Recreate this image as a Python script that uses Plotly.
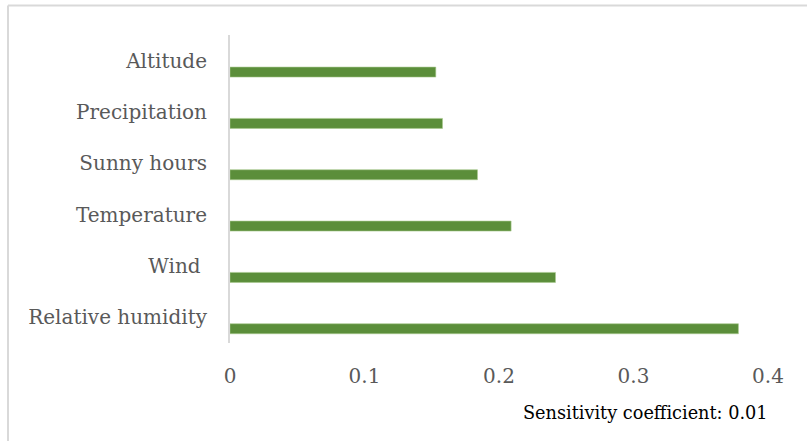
import plotly.graph_objects as go

# Factors, listed from bottom to top of the chart
factors = ["Relative humidity", "Wind ", "Temperature", "Sunny hours",
           "Precipitation", "Altitude"]
coefficients = [0.378, 0.242, 0.209, 0.184, 0.158, 0.153]
x_ticks = [0, 0.1, 0.2, 0.3, 0.4]
x_tick_labels = ["0", "0.1", "0.2", "0.3", "0.4"]
note_text = "Sensitivity coefficient: 0.01"

W, H = 807, 441
L, R, T, B = 230, 39, 35, 98
pw, ph = W - L - R, H - T - B

def px_x(px):
    return (px - L) / pw

def px_y(py):
    return (H - B - py) / ph

fig = go.Figure()
fig.add_trace(go.Bar(
    y=factors,
    x=coefficients,
    orientation="h",
    marker=dict(color="#5b8e3a", line=dict(color="#a9c98f", width=0.6)),
    width=0.195,
    offset=-0.32,
    hoverinfo="x+y",
))

# Chart frame: top and left edges
fig.add_shape(type="line", xref="paper", yref="paper",
              x0=px_x(8), x1=px_x(W), y0=px_y(5.5), y1=px_y(5.5),
              line=dict(color="#d9d9d9", width=2))
fig.add_shape(type="line", xref="paper", yref="paper",
              x0=px_x(8), x1=px_x(8), y0=px_y(5.5), y1=px_y(H + 2),
              line=dict(color="#d9d9d9", width=2))

fig.add_annotation(
    text=note_text, xref="paper", yref="paper",
    x=px_x(770), y=px_y(413), xanchor="right", yanchor="middle",
    showarrow=False,
    font=dict(family="DejaVu Serif, serif", size=17.7, color="#000000"),
)

fig.update_layout(
    width=W, height=H,
    margin=dict(l=L, r=R, t=T, b=B),
    paper_bgcolor="white",
    plot_bgcolor="white",
    showlegend=False,
    font=dict(family="DejaVu Serif, serif", color="#595959"),
    xaxis=dict(
        range=[0, 0.4],
        tickvals=x_ticks,
        ticktext=x_tick_labels,
        showgrid=False,
        zeroline=False,
        showline=False,
        ticks="",
        tickfont=dict(size=20, family="DejaVu Serif, serif", color="#595959"),
        ticklabelstandoff=19,
    ),
    yaxis=dict(
        type="category",
        categoryorder="array",
        categoryarray=factors,
        showgrid=False,
        zeroline=False,
        showline=True,
        linecolor="#d9d9d9",
        linewidth=2,
        ticks="",
        ticklabelstandoff=17,
        tickfont=dict(size=20, family="DejaVu Serif, serif", color="#595959"),
    ),
)

fig.write_html("out.html")
